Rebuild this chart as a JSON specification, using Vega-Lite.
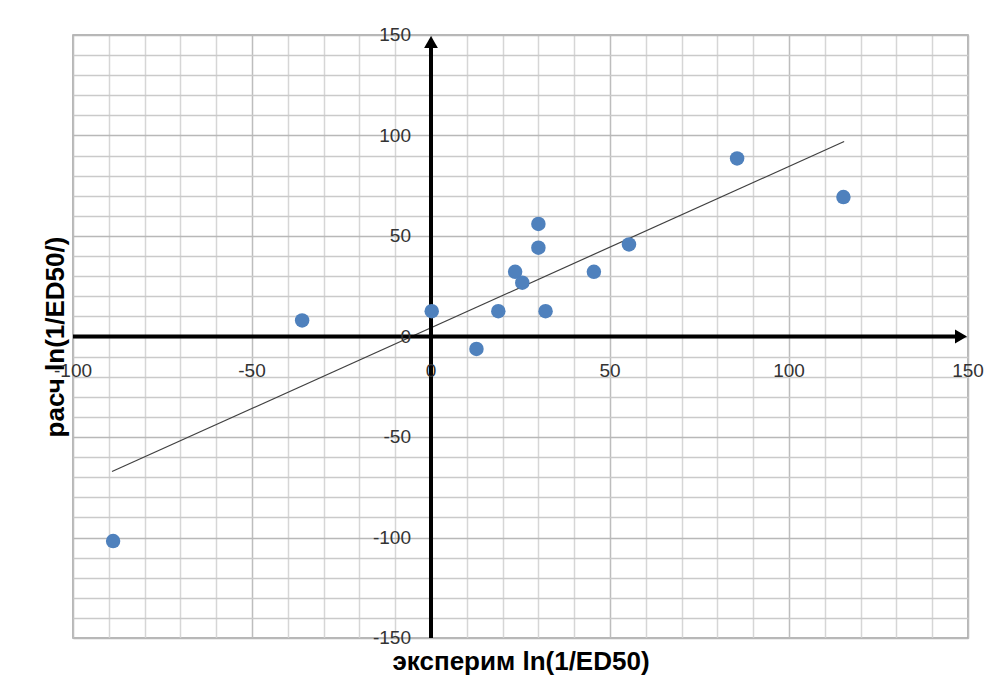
{
  "$schema": "https://vega.github.io/schema/vega-lite/v6.json",
  "width": 895,
  "height": 603,
  "autosize": {"type": "none"},
  "padding": {"left": 73, "top": 35, "right": 25, "bottom": 59},
  "background": "white",
  "config": {"view": {"stroke": "#a0a0a0", "strokeWidth": 1.5}, "font": "Liberation Sans"},
  "resolve": {"axis": {"x": "independent", "y": "independent"}},
  "datasets": {
    "points": [
      {"x": -88.8, "y": -101.8},
      {"x": -36.0, "y": 8.0},
      {"x": 0.2, "y": 12.6},
      {"x": 12.7, "y": -6.2},
      {"x": 18.8, "y": 12.6},
      {"x": 23.5, "y": 32.2},
      {"x": 25.5, "y": 26.8},
      {"x": 30.0, "y": 56.0},
      {"x": 30.0, "y": 44.2},
      {"x": 32.0, "y": 12.6},
      {"x": 45.5, "y": 32.2},
      {"x": 55.3, "y": 45.8},
      {"x": 85.5, "y": 88.6},
      {"x": 115.2, "y": 69.4}
    ],
    "trend": [
      {"x": -89.1, "y": -67.2},
      {"x": 115.4, "y": 97.0}
    ],
    "xticks": [
      {"v": -100, "t": "-100"},
      {"v": -50, "t": "-50"},
      {"v": 0, "t": "0"},
      {"v": 50, "t": "50"},
      {"v": 100, "t": "100"},
      {"v": 150, "t": "150"}
    ],
    "yticks": [
      {"v": -150, "t": "-150"},
      {"v": -100, "t": "-100"},
      {"v": -50, "t": "-50"},
      {"v": 0, "t": "0"},
      {"v": 50, "t": "50"},
      {"v": 100, "t": "100"},
      {"v": 150, "t": "150"}
    ],
    "one": [{}]
  },
  "layer": [
    {
      "data": {"name": "trend"},
      "mark": {"type": "line", "color": "#404040", "strokeWidth": 1.2},
      "encoding": {
        "x": {
          "field": "x", "type": "quantitative",
          "scale": {"domain": [-100, 150], "nice": false, "zero": false},
          "axis": {
            "values": [-100,-90,-80,-70,-60,-50,-40,-30,-20,-10,0,10,20,30,40,50,60,70,80,90,100,110,120,130,140,150],
            "grid": true,
            "gridColor": {"condition": {"test": "datum.value % 50 === 0", "value": "#bdbdbd"}, "value": "#d6d6d6"},
            "gridWidth": 1.5,
            "labels": false, "ticks": false, "domain": false,
            "title": "эксперим ln(1/ED50)",
            "titleFont": "Liberation Sans", "titleFontSize": 26, "titleFontWeight": "bold",
            "titleColor": "#000000", "titlePadding": 10
          }
        },
        "y": {
          "field": "y", "type": "quantitative",
          "scale": {"domain": [-150, 150], "nice": false, "zero": false},
          "axis": {
            "values": [-150,-140,-130,-120,-110,-100,-90,-80,-70,-60,-50,-40,-30,-20,-10,0,10,20,30,40,50,60,70,80,90,100,110,120,130,140,150],
            "grid": true,
            "gridColor": {"condition": {"test": "datum.value % 50 === 0", "value": "#b8b8b8"}, "value": "#cacaca"},
            "gridWidth": 1.5,
            "labels": false, "ticks": false, "domain": false,
            "title": "расч ln(1/ED50/)",
            "titleFont": "Liberation Sans", "titleFontSize": 26, "titleFontWeight": "bold",
            "titleColor": "#000000", "titlePadding": 5
          }
        }
      }
    },
    {
      "data": {"name": "one"},
      "mark": {"type": "rule", "color": "#000000", "strokeWidth": 4},
      "encoding": {
        "x": {"datum": -100, "type": "quantitative", "axis": null},
        "x2": {"datum": 147},
        "y": {"datum": 0, "type": "quantitative", "axis": null}
      }
    },
    {
      "data": {"name": "one"},
      "mark": {"type": "rule", "color": "#000000", "strokeWidth": 4},
      "encoding": {
        "x": {"datum": 0, "type": "quantitative", "axis": null},
        "y": {"datum": -150, "type": "quantitative", "axis": null},
        "y2": {"datum": 145}
      }
    },
    {
      "data": {"name": "one"},
      "mark": {"type": "point", "shape": "triangle-right", "filled": true, "color": "#000000", "size": 190, "opacity": 1},
      "encoding": {
        "x": {"datum": 150, "type": "quantitative", "axis": null},
        "y": {"datum": 0, "type": "quantitative", "axis": null},
        "xOffset": {"value": -7}
      }
    },
    {
      "data": {"name": "one"},
      "mark": {"type": "point", "shape": "triangle-up", "filled": true, "color": "#000000", "size": 190, "opacity": 1},
      "encoding": {
        "x": {"datum": 0, "type": "quantitative", "axis": null},
        "y": {"datum": 150, "type": "quantitative", "axis": null},
        "yOffset": {"value": 7}
      }
    },
    {
      "data": {"name": "points"},
      "mark": {"type": "circle", "size": 210, "color": "#4F81BD", "opacity": 1},
      "encoding": {
        "x": {"field": "x", "type": "quantitative", "axis": null},
        "y": {"field": "y", "type": "quantitative", "axis": null}
      }
    },
    {
      "data": {"name": "xticks"},
      "mark": {"type": "text", "align": "center", "baseline": "middle", "dy": 34, "fontSize": 19, "color": "#333333", "font": "Liberation Sans"},
      "encoding": {
        "x": {"field": "v", "type": "quantitative", "axis": null},
        "y": {"datum": 0, "type": "quantitative", "axis": null},
        "text": {"field": "t"}
      }
    },
    {
      "data": {"name": "yticks"},
      "mark": {"type": "text", "align": "right", "baseline": "middle", "dx": -20, "fontSize": 19, "color": "#333333", "font": "Liberation Sans"},
      "encoding": {
        "x": {"datum": 0, "type": "quantitative", "axis": null},
        "y": {"field": "v", "type": "quantitative", "axis": null},
        "text": {"field": "t"}
      }
    }
  ]
}
